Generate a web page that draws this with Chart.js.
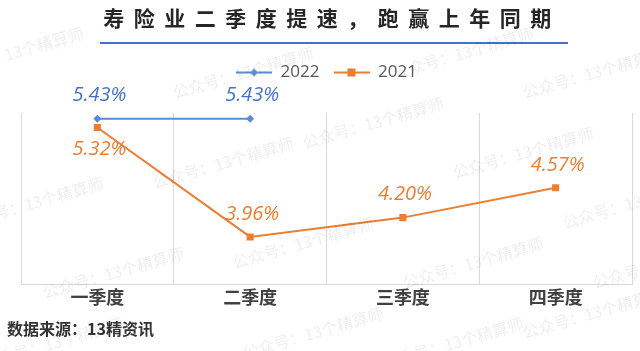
<!DOCTYPE html>
<html>
<head>
<meta charset="utf-8">
<script src="https://cdn.jsdelivr.net/npm/chart.js@4"></script>
<style>
  body { margin: 0; background: #fff; }
  #wrap { position: relative; width: 640px; height: 351px; overflow: hidden; font-family: "Noto Sans CJK SC", sans-serif; }
  #title { position: absolute; left: 12px; top: 2px; width: 640px; text-align: center; font-size: 21px; font-weight: bold; letter-spacing: 9.5px; color: #262626; }
  #rule { position: absolute; left: 100px; top: 42px; width: 468px; height: 2px; background: #4472c4; }
  #source { position: absolute; left: 7px; top: 316px; font-size: 16px; font-weight: bold; color: #333; }
  .wm { position: absolute; font-size: 16px; color: rgba(0,0,0,0.07); transform: rotate(-16deg); white-space: nowrap; pointer-events: none; }
  canvas { position: absolute; left: 0; top: 0; }
</style>
</head>
<body>
<div id="wrap">
  <canvas id="myChart" width="640" height="351"></canvas>
  <div id="title">寿险业二季度提速，跑赢上年同期</div>
  <div id="rule"></div>
  <div id="source">数据来源：13精资讯</div>
</div>
<script>
const quarters = ['一季度', '二季度', '三季度', '四季度']
const seriesNames = ['2022', '2021']
const values2022 = [5.43, 5.43, null, null]
const values2021 = [5.32, 3.96, 4.20, 4.57]

const blue = '#5b8bd5'
const orange = '#ed7d31'
const labelColors = ['#4472c4', '#ed7d31']
const cjk = '"Noto Sans CJK SC", sans-serif'
const latin = '"Open Sans", "Noto Sans", sans-serif'

// faint watermark text scattered over the picture
const marks = [[-60, 40], [170, 60], [390, 40], [520, 60], [-40, 190], [150, 150], [300, 110], [450, 140], [560, 190],
               [40, 260], [230, 230], [400, 250], [520, 300], [-20, 330], [240, 320], [380, 330], [590, 250]]
marks.forEach(m => {
    const d = document.createElement('div')
    d.className = 'wm'
    d.style.left = m[0] + 'px'
    d.style.top = m[1] + 'px'
    d.textContent = '公众号：13个精算师'
    document.getElementById('wrap').appendChild(d)
})

function legendIcon(color, shape) {
    const c = document.createElement('canvas')
    c.width = 36
    c.height = 12
    const g = c.getContext('2d')
    g.strokeStyle = color
    g.lineWidth = 2
    g.beginPath()
    g.moveTo(0, 6)
    g.lineTo(36, 6)
    g.stroke()
    g.fillStyle = color
    if (shape === 'diamond') {
        g.beginPath()
        g.moveTo(18, 2); g.lineTo(22, 6); g.lineTo(18, 10); g.lineTo(14, 6)
        g.closePath()
        g.fill()
    } else {
        g.fillRect(14, 2, 8, 8)
    }
    return c
}
const icons = [legendIcon(blue, 'diamond'), legendIcon(orange, 'square')]

const legendSpacer = {
    id: 'legendSpacer',
    beforeInit(chart) {
        const fit = chart.legend.fit
        chart.legend.fit = function () {
            fit.call(this)
            this.height += 22
        }
    }
}

// value labels, 2021 Q1 goes under its point so it does not hit the 2022 label
const valueLabels = {
    id: 'valueLabels',
    afterDatasetsDraw(chart) {
        const ctx = chart.ctx
        ctx.save()
        ctx.font = 'italic 20px ' + latin
        ctx.textAlign = 'center'
        ctx.textBaseline = 'middle'
        chart.data.datasets.forEach((ds, di) => {
            const meta = chart.getDatasetMeta(di)
            meta.data.forEach((pt, i) => {
                const v = ds.data[i]
                if (v === null) return
                const below = di === 1 && i === 0
                ctx.fillStyle = labelColors[di]
                ctx.fillText(v.toFixed(2) + '%', pt.x + 2, pt.y + (below ? 22 : -23))
            })
        })
        ctx.restore()
    }
}

const ctx = document.getElementById('myChart').getContext('2d')
const myChart = new Chart(ctx, {
    type: 'line',
    data: {
        labels: quarters,
        datasets: [{
            label: seriesNames[0],
            data: values2022,
            borderColor: blue,
            backgroundColor: blue,
            borderWidth: 2,
            pointStyle: 'rectRot',
            pointRadius: 4,
            pointBorderWidth: 0,
            spanGaps: false
        }, {
            label: seriesNames[1],
            data: values2021,
            borderColor: orange,
            backgroundColor: orange,
            borderWidth: 2,
            pointStyle: 'rect',
            pointRadius: 5,
            pointBorderWidth: 0
        }]
    },
    options: {
        responsive: false,
        animation: false,
        layout: {
            padding: { top: 50, left: 21, right: 8, bottom: 41 }
        },
        plugins: {
            title: { display: false },
            tooltip: { enabled: false },
            legend: {
                display: true,
                labels: {
                    usePointStyle: true,
                    pointStyleWidth: 36,
                    boxHeight: 12,
                    padding: 14,
                    color: '#595959',
                    font: { size: 17, family: latin },
                    generateLabels(chart) {
                        const items = Chart.defaults.plugins.legend.labels.generateLabels(chart)
                        items.forEach((item, i) => { item.pointStyle = icons[i] })
                        return items
                    }
                }
            }
        },
        scales: {
            x: {
                offset: true,
                grid: { offset: true, color: '#d9d9d9', lineWidth: 1, drawTicks: false },
                border: { color: '#d9d9d9' },
                ticks: {
                    padding: 2,
                    color: '#404040',
                    font: { size: 18, weight: 'bold', family: cjk }
                }
            },
            y: {
                display: false,
                min: 3.37,
                max: 5.5
            }
        }
    },
    plugins: [legendSpacer, valueLabels]
})
</script>
</body>
</html>
